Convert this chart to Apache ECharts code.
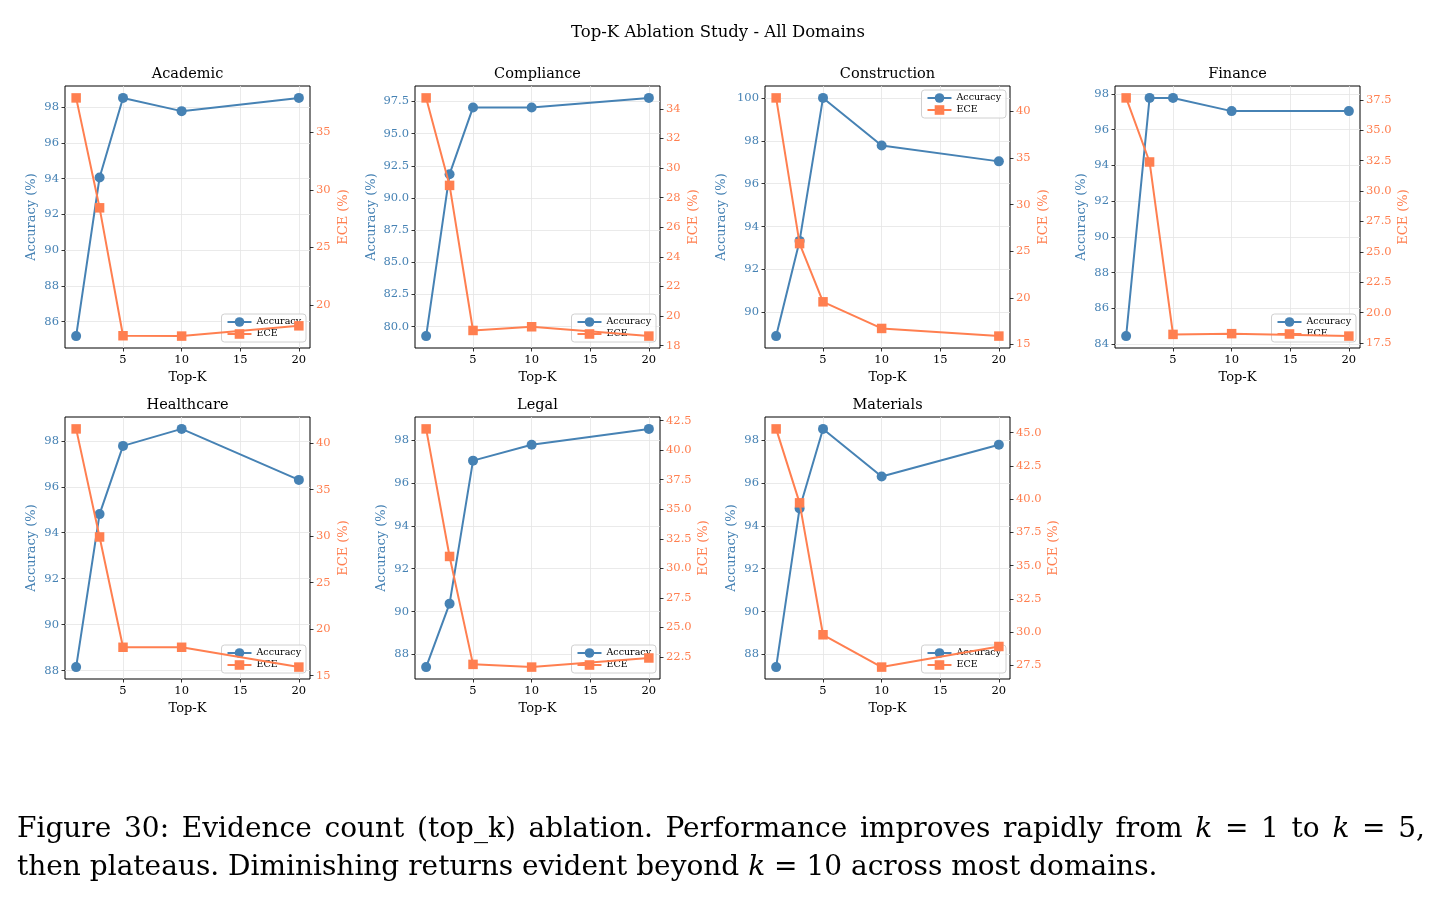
<!DOCTYPE html>
<html>
<head>
<meta charset="utf-8">
<title>Top-K Ablation Study - All Domains</title>
<script src="https://cdn.jsdelivr.net/npm/echarts@6/dist/echarts.min.js"></script>
<style>
  html, body { margin: 0; padding: 0; background: #fff; }
  #chart { position: absolute; left: 0; top: 0; width: 1440px; height: 900px; }
  .caption {
    position: absolute; left: 17px;
    font-family: 'DejaVu Serif', serif; font-size: 28px; line-height: 38px; color: #000;
  }
  #cap1 { top: 809px; width: 1408px; text-align: justify; text-align-last: justify; }
  #cap2 { top: 847px; white-space: nowrap; }
</style>
</head>
<body>
<div id="chart"></div>
<div class="caption" id="cap1">Figure 30: Evidence count (top_k) ablation. Performance improves rapidly from <i>k</i> = 1 to <i>k</i> = 5,</div>
<div class="caption" id="cap2">then plateaus. Diminishing returns evident beyond <i>k</i> = 10 across most domains.</div>

<script>
// ---- data ----
const topK = [1, 3, 5, 10, 20]
const xTicks = [5, 10, 15, 20]
const domains = ['Academic', 'Compliance', 'Construction', 'Finance', 'Healthcare', 'Legal', 'Materials']

const accAcademic = [85.19, 94.07, 98.52, 97.78, 98.52]
const eceAcademic = [37.97, 28.44, 17.35, 17.32, 18.21]
const accCompliance = [79.26, 91.85, 97.04, 97.04, 97.78]
const eceCompliance = [34.74, 28.83, 19.03, 19.28, 18.65]
const accConstruction = [88.89, 93.33, 100.0, 97.78, 97.04]
const eceConstruction = [41.46, 25.82, 19.57, 16.71, 15.89]
const accFinance = [84.44, 97.78, 97.78, 97.04, 97.04]
const eceFinance = [37.66, 32.39, 18.21, 18.27, 18.07]
const accHealthcare = [88.15, 94.81, 97.78, 98.52, 96.30]
const eceHealthcare = [41.54, 29.92, 18.06, 18.06, 15.93]
const accLegal = [87.41, 90.37, 97.04, 97.78, 98.52]
const eceLegal = [41.80, 31.01, 21.88, 21.65, 22.42]
const accMaterials = [87.41, 94.81, 98.52, 96.30, 97.78]
const eceMaterials = [45.28, 39.72, 29.80, 27.37, 28.92]

// tick labels per panel
const accTicksAcademic = [86, 88, 90, 92, 94, 96, 98]
const eceTicksAcademic = [20, 25, 30, 35]
const accTicksCompliance = [80.0, 82.5, 85.0, 87.5, 90.0, 92.5, 95.0, 97.5]
const eceTicksCompliance = [18, 20, 22, 24, 26, 28, 30, 32, 34]
const accTicksConstruction = [90, 92, 94, 96, 98, 100]
const eceTicksConstruction = [15, 20, 25, 30, 35, 40]
const accTicksFinance = [84, 86, 88, 90, 92, 94, 96, 98]
const eceTicksFinance = [17.5, 20.0, 22.5, 25.0, 27.5, 30.0, 32.5, 35.0, 37.5]
const accTicksHealthcare = [88, 90, 92, 94, 96, 98]
const eceTicksHealthcare = [15, 20, 25, 30, 35, 40]
const accTicksLegal = [88, 90, 92, 94, 96, 98]
const eceTicksLegal = [22.5, 25.0, 27.5, 30.0, 32.5, 35.0, 37.5, 40.0, 42.5]
const accTicksMaterials = [88, 90, 92, 94, 96, 98]
const eceTicksMaterials = [27.5, 30.0, 32.5, 35.0, 37.5, 40.0, 42.5, 45.0]

const accData = [accAcademic, accCompliance, accConstruction, accFinance, accHealthcare, accLegal, accMaterials]
const eceData = [eceAcademic, eceCompliance, eceConstruction, eceFinance, eceHealthcare, eceLegal, eceMaterials]
const accTicks = [accTicksAcademic, accTicksCompliance, accTicksConstruction, accTicksFinance, accTicksHealthcare, accTicksLegal, accTicksMaterials]
const eceTicks = [eceTicksAcademic, eceTicksCompliance, eceTicksConstruction, eceTicksFinance, eceTicksHealthcare, eceTicksLegal, eceTicksMaterials]

// ---- layout / style ----
const colLeft = [65, 415, 765, 1115]
const rowTop = [86, 417]
const gridW = 245
const gridH = 262
const legendOnTop = ['Construction']

const BLUE = '#4682B4'
const ORANGE = '#FF7F50'
const FONT = 'DejaVu Serif'
const GRID_LINE = '#e4e4e4'

// matplotlib-like auto range: 5% margin each side
function paddedRange (vals) {
  const lo = Math.min(...vals)
  const hi = Math.max(...vals)
  const pad = (hi - lo) * 0.05
  return [lo - pad, hi + pad]
}
function decimalsOf (ticks) {
  return ticks.some(t => !Number.isInteger(t)) ? 1 : 0
}
function nameGapOf (ticks) {
  const d = decimalsOf(ticks)
  const longest = Math.max(...ticks.map(t => t.toFixed(d).length))
  return longest > 2 ? 37 : 27
}

const xRange = paddedRange(topK)
const grid = []
const xAxis = []
const yAxis = []
const series = []
const legend = []
const title = [{
  text: 'Top-K Ablation Study - All Domains',
  left: 718,
  top: 24,
  textAlign: 'center',
  padding: 0,
  textStyle: { fontFamily: FONT, fontSize: 16.5, fontWeight: 'normal', color: '#000' }
}]

function yAxisFor (i, ticks, range, side, color, name) {
  const d = decimalsOf(ticks)
  return {
    gridIndex: i,
    type: 'value',
    position: side,
    min: range[0],
    max: range[1],
    axisLine: { show: false },
    axisTick: { show: true, length: 3.5, customValues: ticks, lineStyle: { color: '#000', width: 0.8 } },
    axisLabel: {
      customValues: ticks,
      formatter: v => Number(v).toFixed(d),
      color: color,
      fontFamily: FONT,
      fontSize: 11.5,
      margin: 6
    },
    splitLine: { show: side === 'left', lineStyle: { color: GRID_LINE, width: 0.8 } },
    name: name,
    nameLocation: 'middle',
    nameGap: nameGapOf(ticks),
    nameTextStyle: { color: color, fontFamily: FONT, fontSize: 13 }
  }
}

domains.forEach((dom, i) => {
  const left = colLeft[i % 4]
  const top = rowTop[Math.floor(i / 4)]

  grid.push({ left: left, top: top, width: gridW, height: gridH, show: true, borderColor: '#000', borderWidth: 1, backgroundColor: 'transparent' })

  title.push({
    text: dom,
    left: left + gridW / 2,
    top: top - 19,
    textAlign: 'center',
    padding: 0,
    textStyle: { fontFamily: FONT, fontSize: 14.5, fontWeight: 'normal', color: '#000' }
  })

  xAxis.push({
    gridIndex: i,
    type: 'value',
    min: xRange[0],
    max: xRange[1],
    axisLine: { show: false },
    axisTick: { show: true, length: 3.5, customValues: xTicks, lineStyle: { color: '#000', width: 0.8 } },
    axisLabel: { customValues: xTicks, color: '#000', fontFamily: FONT, fontSize: 11.5, margin: 6 },
    splitLine: { show: true, lineStyle: { color: GRID_LINE, width: 0.8 } },
    name: 'Top-K',
    nameLocation: 'middle',
    nameGap: 23,
    nameTextStyle: { color: '#000', fontFamily: FONT, fontSize: 13 }
  })

  yAxis.push(yAxisFor(i, accTicks[i], paddedRange(accData[i]), 'left', BLUE, 'Accuracy (%)'))
  yAxis.push(yAxisFor(i, eceTicks[i], paddedRange(eceData[i]), 'right', ORANGE, 'ECE (%)'))

  series.push({
    type: 'line',
    name: 'Accuracy',
    xAxisIndex: i,
    yAxisIndex: 2 * i,
    data: topK.map((k, j) => [k, accData[i][j]]),
    symbol: 'circle',
    symbolSize: 10,
    lineStyle: { color: BLUE, width: 2 },
    itemStyle: { color: BLUE },
    z: 2
  })
  series.push({
    type: 'line',
    name: 'ECE',
    xAxisIndex: i,
    yAxisIndex: 2 * i + 1,
    data: topK.map((k, j) => [k, eceData[i][j]]),
    symbol: 'rect',
    symbolSize: 9.5,
    lineStyle: { color: ORANGE, width: 2 },
    itemStyle: { color: ORANGE },
    z: 5
  })

  const lg = {
    data: ['Accuracy', 'ECE'],
    orient: 'vertical',
    right: 1440 - (left + gridW) + 4,
    itemWidth: 24,
    itemHeight: 12,
    itemGap: 2,
    padding: [3, 5],
    backgroundColor: 'rgba(255,255,255,0.8)',
    borderColor: '#d0d0d0',
    borderWidth: 1,
    borderRadius: 3,
    selectedMode: false,
    textStyle: { fontFamily: FONT, fontSize: 9.5, color: '#000' },
    z: 4
  }
  if (legendOnTop.includes(dom)) {
    lg.top = top + 4
  } else {
    lg.bottom = 900 - (top + gridH) + 6
  }
  legend.push(lg)
})

const chart = echarts.init(document.getElementById('chart'), null, { renderer: 'canvas' })
chart.setOption({
  animation: false,
  backgroundColor: '#fff',
  title: title,
  legend: legend,
  grid: grid,
  xAxis: xAxis,
  yAxis: yAxis,
  series: series
})
</script>
</body>
</html>
